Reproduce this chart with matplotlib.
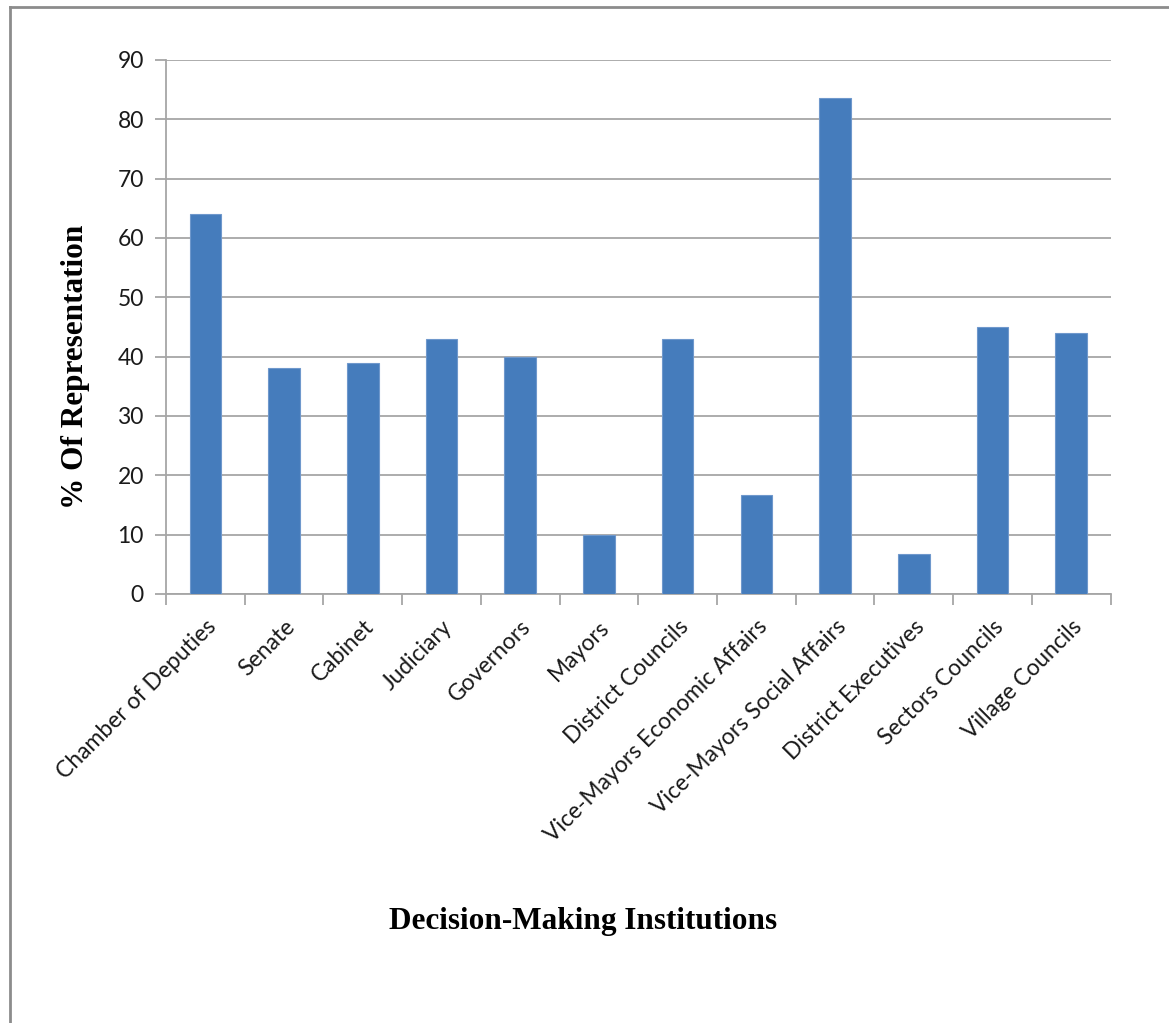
import numpy as np
import matplotlib.pyplot as plt
from matplotlib.lines import Line2D

# Chart data
institutions = ['Chamber of Deputies', 'Senate', 'Cabinet', 'Judiciary', 'Governors',
                'Mayors', 'District Councils', 'Vice-Mayors Economic Affairs',
                'Vice-Mayors Social Affairs', 'District Executives', 'Sectors Councils',
                'Village Councils']
representation = [64, 38, 39, 43, 40, 10, 43, 16.7, 83.6, 6.7, 45, 44]
y_ticks = [0, 10, 20, 30, 40, 50, 60, 70, 80, 90]

grid_color = '#a6a6a6'
bar_color = '#457cbc'
tick_font = 'Lato'

fig = plt.figure(figsize=(11.69, 10.23), dpi=100)
ax = fig.add_axes([0.142, 0.4194, 0.808, 0.522])

x = np.arange(len(institutions))
ax.bar(x, representation, width=0.4, color=bar_color, edgecolor='#6f98cc',
       linewidth=0.8, zorder=3)

ax.set_xlim(-0.5, len(institutions) - 0.5)
ax.set_ylim(0, 90)
ax.set_yticks(y_ticks)
ax.set_yticklabels([str(v) for v in y_ticks], fontsize=16.5, family=tick_font,
                   color='#1a1a1a')
ax.yaxis.grid(True, color=grid_color, linewidth=1.3, zorder=0)
ax.set_axisbelow(True)

# category labels at centres, tick marks on boundaries
ax.set_xticks(x)
ax.set_xticklabels(institutions, rotation=45, ha='right', rotation_mode='anchor',
                   fontsize=16.5, family=tick_font, color='#1a1a1a')
ax.tick_params(axis='x', length=0, pad=16)
ax.set_xticks(np.arange(len(institutions) + 1) - 0.5, minor=True)
ax.tick_params(axis='x', which='minor', length=8, width=1.3, color=grid_color)
ax.tick_params(axis='y', length=8, width=1.3, color=grid_color, pad=8)

for side in ['top', 'right']:
    ax.spines[side].set_visible(False)
for side in ['left', 'bottom']:
    ax.spines[side].set_color(grid_color)
    ax.spines[side].set_linewidth(1.3)

ax.set_ylabel('% Of Representation', fontsize=22.5, fontweight='bold',
              family='Liberation Serif')
ax.yaxis.set_label_coords(-0.08, 0.425)
fig.text(0.499, 0.099, 'Decision-Making Institutions', fontsize=22.5,
         fontweight='bold', family='Liberation Serif', ha='center', va='center')

# outer chart frame (left and top edges visible)
fig.add_artist(Line2D([10 / 1169, 10 / 1169], [0, 1 - 7 / 1023],
                      transform=fig.transFigure, color='#8c8c8c', linewidth=2))
fig.add_artist(Line2D([10 / 1169, 1], [1 - 7 / 1023, 1 - 7 / 1023],
                      transform=fig.transFigure, color='#8c8c8c', linewidth=2))

fig.savefig('out.png', dpi=100)
